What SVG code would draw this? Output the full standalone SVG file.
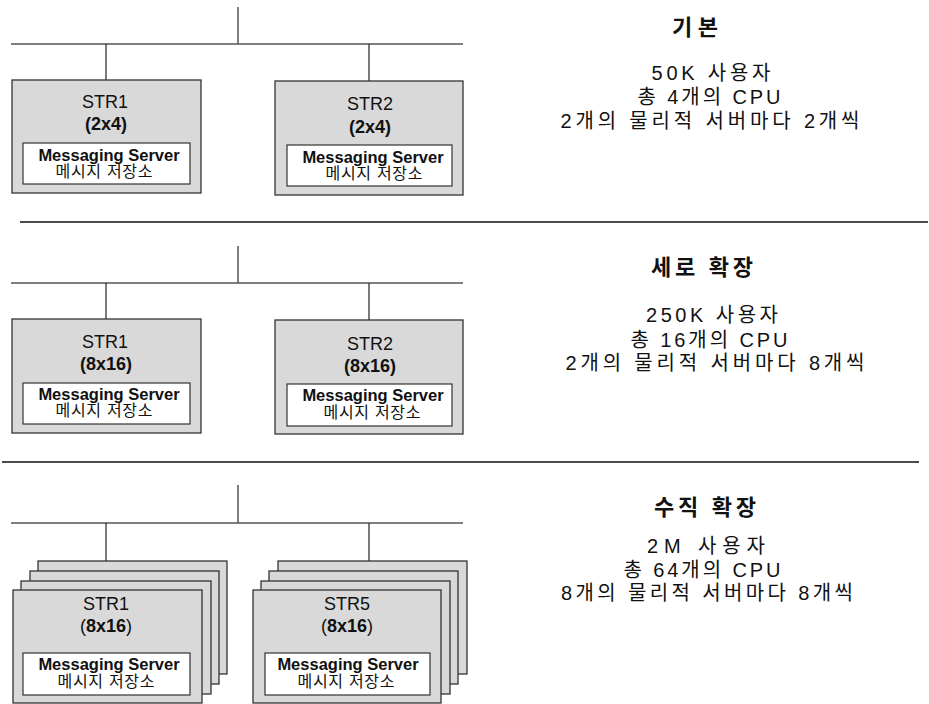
<svg xmlns="http://www.w3.org/2000/svg" width="929" height="704" viewBox="0 0 929 704">
<style>
.bg{fill:#ffffff}
.net{stroke:#555;stroke-width:1.5;fill:none}
.drop{stroke:#222;stroke-width:1.2;fill:none}
.sep{stroke:#111;stroke-width:1.6;fill:none}
.srv{fill:#d9d9d9;stroke:#333;stroke-width:1.3}
.inner{fill:#ffffff;stroke:#333;stroke-width:1.2}
text{font-family:"Liberation Sans","Noto Sans CJK KR",sans-serif;fill:#111;text-anchor:middle}
.name{font-size:18px}
.cfg{font-size:18px;font-weight:bold}
.thin{font-weight:normal}
.ms{font-size:16.5px;font-weight:bold}
.kr{font-size:16px}
.title{font-size:22px;font-weight:bold}
.info{font-size:20px}
</style>
<rect class="bg" x="0" y="0" width="929" height="704"/>

<g id="connectors">
  <!-- section 1 -->
  <line class="net" x1="238" y1="7" x2="238" y2="44"/>
  <line class="net" x1="11" y1="44" x2="463" y2="44"/>
  <line class="drop" x1="106" y1="44" x2="106" y2="80"/>
  <line class="drop" x1="369" y1="44" x2="369" y2="81"/>
  <!-- section 2 -->
  <line class="net" x1="238" y1="246" x2="238" y2="283"/>
  <line class="net" x1="11" y1="283" x2="463" y2="283"/>
  <line class="drop" x1="106" y1="283" x2="106" y2="319"/>
  <line class="drop" x1="369" y1="283" x2="369" y2="320"/>
  <!-- section 3 -->
  <line class="net" x1="238" y1="485" x2="238" y2="523"/>
  <line class="net" x1="11" y1="523" x2="463" y2="523"/>
  <line class="drop" x1="106" y1="523" x2="106" y2="561"/>
  <line class="drop" x1="369" y1="523" x2="369" y2="561"/>
</g>

<g id="separators">
  <line class="sep" x1="20" y1="222" x2="928" y2="222"/>
  <line class="sep" x1="2" y1="462" x2="919" y2="462"/>
</g>

<!-- Section 1 -->
<g id="s1-str1">
  <rect class="srv" x="12" y="80" width="189" height="113"/>
  <text class="name" x="105" y="108">STR1</text>
  <text class="cfg" x="106" y="130">(2x4)</text>
  <rect class="inner" x="23" y="143" width="167" height="41"/>
  <text class="ms" x="109" y="161">Messaging Server</text>
  <text class="kr" x="104" y="177" textLength="97" lengthAdjust="spacing">메시지 저장소</text>
</g>
<g id="s1-str2">
  <rect class="srv" x="275" y="81" width="188" height="114"/>
  <text class="name" x="370" y="110">STR2</text>
  <text class="cfg" x="370" y="133">(2x4)</text>
  <rect class="inner" x="287" y="145" width="165" height="41"/>
  <text class="ms" x="373" y="163">Messaging Server</text>
  <text class="kr" x="374" y="179" textLength="97" lengthAdjust="spacing">메시지 저장소</text>
</g>
<g id="s1-info">
  <text class="title" x="695" y="35" textLength="46" lengthAdjust="spacing">기본</text>
  <text class="info" x="711" y="80" textLength="119" lengthAdjust="spacing">50K 사용자</text>
  <text class="info" x="709" y="104" textLength="143" lengthAdjust="spacing">총 4개의 CPU</text>
  <text class="info" x="710" y="128" textLength="299" lengthAdjust="spacing">2개의 물리적 서버마다 2개씩</text>
</g>

<!-- Section 2 -->
<g id="s2-str1">
  <rect class="srv" x="12" y="319" width="189" height="114"/>
  <text class="name" x="105" y="348">STR1</text>
  <text class="cfg" x="106" y="370">(8x16)</text>
  <rect class="inner" x="23" y="383" width="167" height="41"/>
  <text class="ms" x="109" y="400">Messaging Server</text>
  <text class="kr" x="104" y="416" textLength="97" lengthAdjust="spacing">메시지 저장소</text>
</g>
<g id="s2-str2">
  <rect class="srv" x="275" y="320" width="188" height="114"/>
  <text class="name" x="370" y="350">STR2</text>
  <text class="cfg" x="370" y="372">(8x16)</text>
  <rect class="inner" x="287" y="384" width="165" height="42"/>
  <text class="ms" x="373" y="401">Messaging Server</text>
  <text class="kr" x="372" y="418" textLength="97" lengthAdjust="spacing">메시지 저장소</text>
</g>
<g id="s2-info">
  <text class="title" x="702" y="275" textLength="102" lengthAdjust="spacing">세로 확장</text>
  <text class="info" x="712" y="322" textLength="132" lengthAdjust="spacing">250K 사용자</text>
  <text class="info" x="709" y="347" textLength="157" lengthAdjust="spacing">총 16개의 CPU</text>
  <text class="info" x="715" y="370" textLength="299" lengthAdjust="spacing">2개의 물리적 서버마다 8개씩</text>
</g>

<!-- Section 3 -->
<g id="s3-str1">
  <rect class="srv" x="38" y="561" width="189" height="113"/>
  <rect class="srv" x="30" y="571" width="189" height="113"/>
  <rect class="srv" x="21" y="581" width="190" height="113"/>
  <rect class="srv" x="13" y="590" width="189" height="113"/>
  <text class="name" x="106" y="610">STR1</text>
  <text class="cfg" x="106" y="632"><tspan class="thin">(</tspan>8x16<tspan class="thin">)</tspan></text>
  <rect class="inner" x="23" y="653" width="167" height="42"/>
  <text class="ms" x="109" y="670">Messaging Server</text>
  <text class="kr" x="106" y="687" textLength="97" lengthAdjust="spacing">메시지 저장소</text>
</g>
<g id="s3-str5">
  <rect class="srv" x="278" y="561" width="189" height="113"/>
  <rect class="srv" x="269" y="571" width="189" height="113"/>
  <rect class="srv" x="261" y="581" width="189" height="113"/>
  <rect class="srv" x="253" y="590" width="188" height="113"/>
  <text class="name" x="347" y="610">STR5</text>
  <text class="cfg" x="347" y="632"><tspan class="thin">(</tspan>8x16<tspan class="thin">)</tspan></text>
  <rect class="inner" x="265" y="653" width="165" height="42"/>
  <text class="ms" x="348" y="670">Messaging Server</text>
  <text class="kr" x="346" y="687" textLength="97" lengthAdjust="spacing">메시지 저장소</text>
</g>
<g id="s3-info">
  <text class="title" x="705" y="515" textLength="102" lengthAdjust="spacing">수직 확장</text>
  <text class="info" x="706" y="553" textLength="118" lengthAdjust="spacing">2M 사용자</text>
  <text class="info" x="702" y="577" textLength="157" lengthAdjust="spacing">총 64개의 CPU</text>
  <text class="info" x="707" y="600" textLength="292" lengthAdjust="spacing">8개의 물리적 서버마다 8개씩</text>
</g>
</svg>
